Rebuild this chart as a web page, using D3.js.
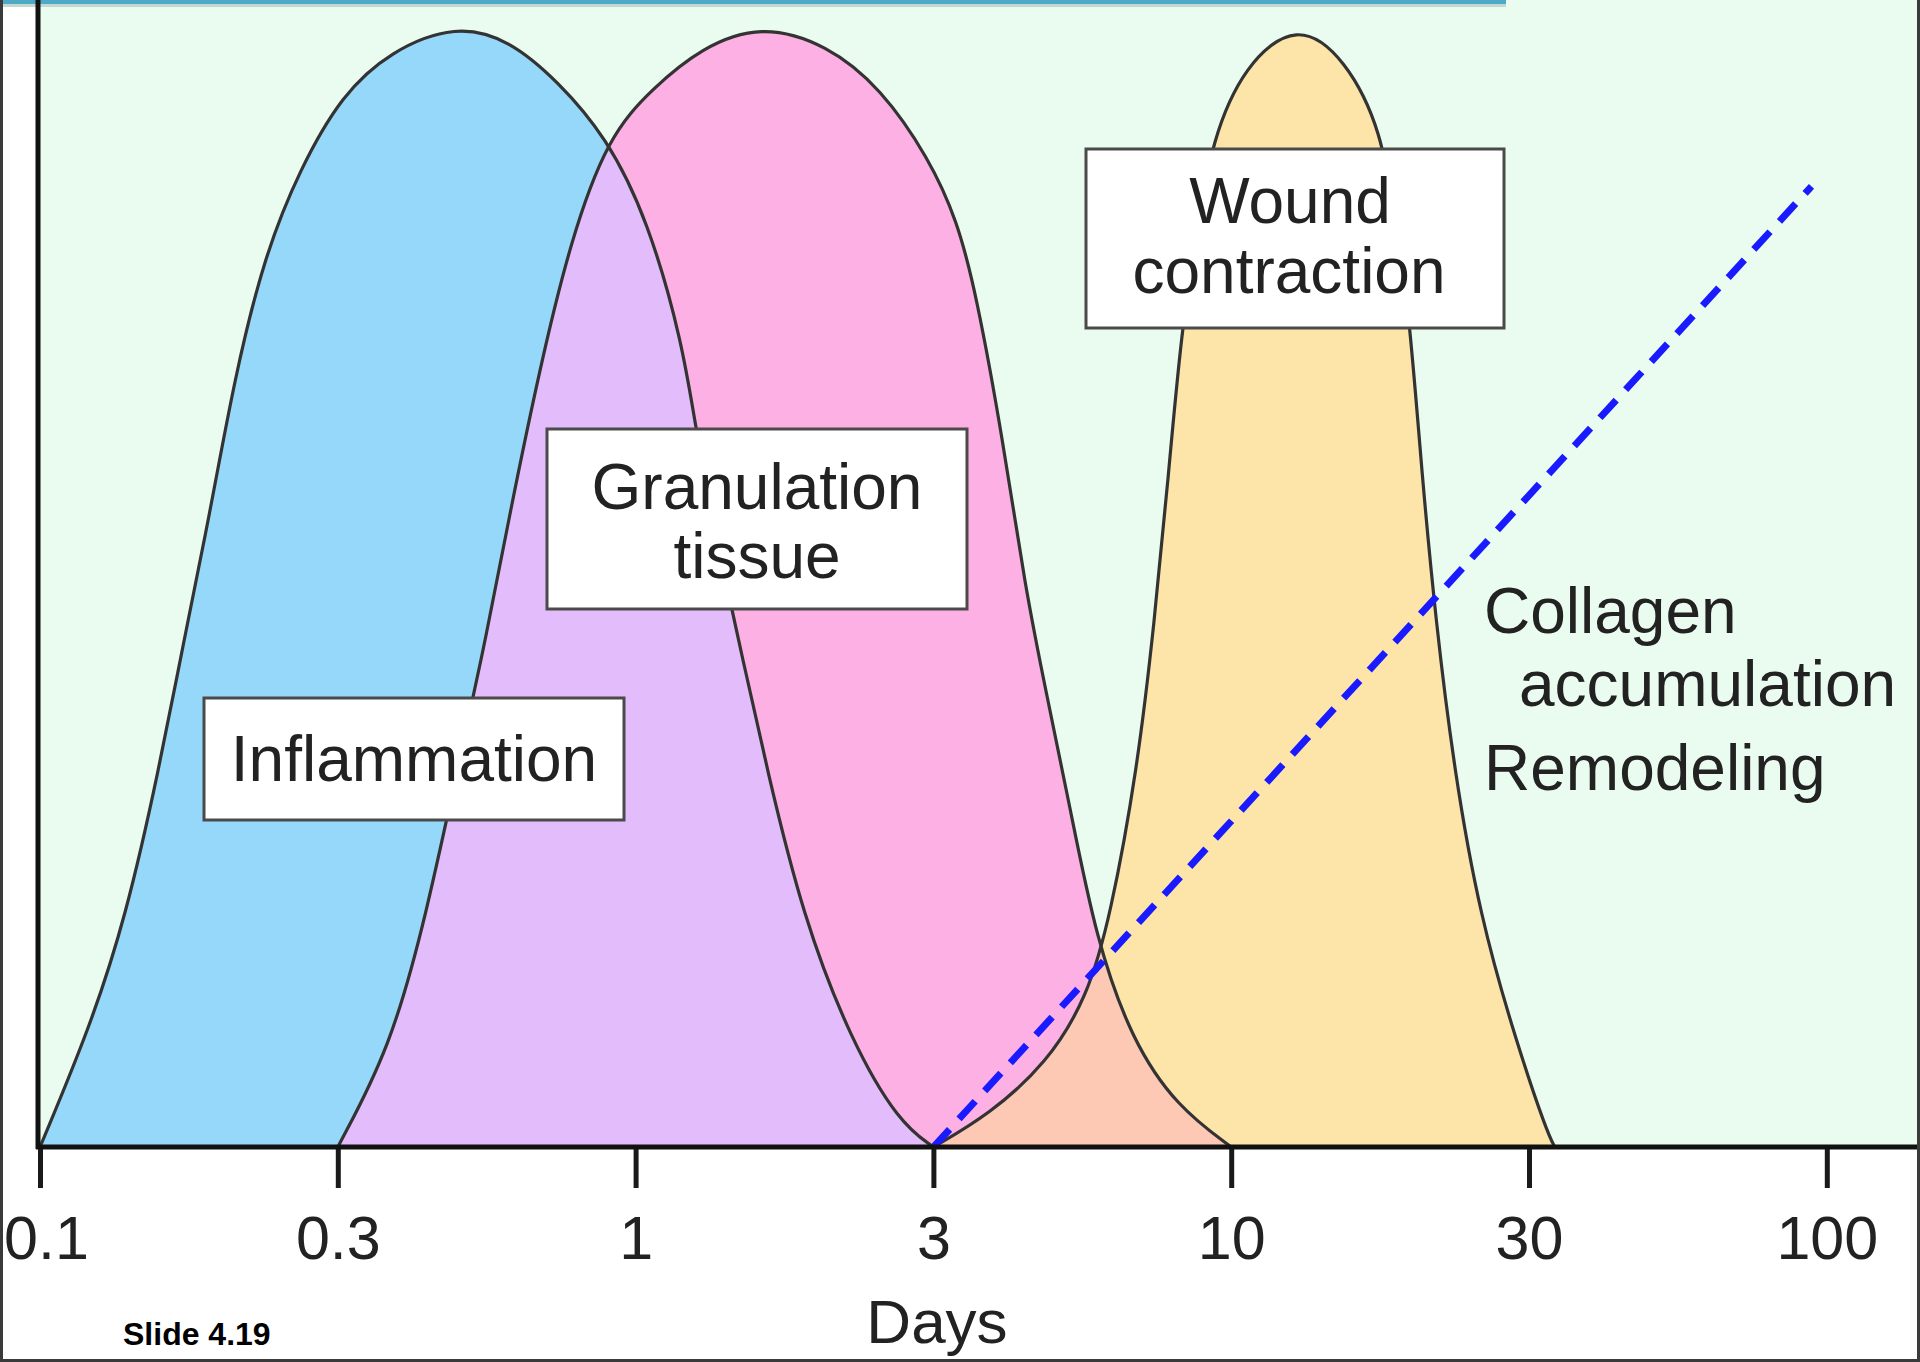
<!DOCTYPE html>
<html>
<head>
<meta charset="utf-8">
<script src="https://cdn.jsdelivr.net/npm/d3@7.9.0/dist/d3.min.js"></script>
<style>
  body { margin: 0; background: #fff; }
  svg { display: block; font-family: "Liberation Sans", Arial, Helvetica, sans-serif; }
</style>
</head>
<body>
<div id="chart"></div>
<script>
// x ticks (days), evenly spaced on the axis
const tickDays = [0.1, 0.3, 1, 3, 10, 30, 100];
const tickLabels = ["0.1", "0.3", "1", "3", "10", "30", "100"];

// [days, relative level 0-100]
const inflammation = [
  [0.1, 0], [0.1202, 10.7], [0.1373, 20.6], [0.1551, 33.8], [0.1694, 44.9],
  [0.1873, 56.8], [0.2045, 68.6], [0.2285, 79.7], [0.261, 87.6], [0.3051, 94.2],
  [0.3705, 98.1], [0.4837, 100.5], [0.6016, 99.1], [0.7305, 95.4], [0.8867, 90.5],
  [1.047, 83.0], [1.191, 71.8], [1.245, 64.6], [1.36, 53.4], [1.486, 43.6],
  [1.624, 33.8], [1.854, 20.6], [2.214, 9.5], [2.642, 2.2], [3, 0]
];
const granulation = [
  [0.3, 0], [0.3705, 8.8], [0.4285, 20.6], [0.4957, 35.7], [0.5463, 45.6],
  [0.6016, 56.8], [0.6795, 69.8], [0.767, 81.0], [0.8945, 90.5], [1.066, 94.8],
  [1.273, 98.4], [1.588, 100.5], [2.026, 98.7], [2.472, 94.8],
  [2.952, 88.5], [3.3, 83.0], [3.564, 76.5], [3.975, 63.3], [4.345, 50.1],
  [4.75, 40.3], [5.212, 30.4], [5.789, 18.6], [6.697, 9.5], [8.035, 3.6], [10, 0]
];
const contraction = [
  [3, 0], [3.756, 2.9], [4.75, 7.5], [5.589, 13.4], [6.134, 20.6],
  [6.842, 33.8], [7.328, 46.9], [7.755, 60.0], [8.175, 73.1], [8.726, 82.4],
  [9.265, 90.2], [10.48, 96.8], [12.75, 100.8], [15.27, 97.4], [17.44, 90.9],
  [18.3, 83.0], [19.27, 75.1], [20.22, 60.0], [21.29, 46.9], [22.75, 33.8],
  [25.04, 20.6], [28.59, 9.5], [32.27, 1.3], [33.3, 0]
];
const collagen = [[3, 0], [94, 86]];

const width = 1920;
const height = 1362;
const baseY = 1147;
const axisX = 38;

const svg = d3.select("#chart").append("svg")
  .attr("width", width)
  .attr("height", height);

// piecewise scale on log10(days) so that ticks sit evenly
const xScale = d3.scaleLinear()
  .domain(tickDays.map(Math.log10))
  .range(tickDays.map((d, i) => 40 + i * 297.8));
const px = (d) => xScale(Math.log10(d));

const yScale = d3.scaleLinear().domain([0, 100]).range([baseY, 30]);

// backgrounds
svg.append("rect").attr("width", width).attr("height", height).attr("fill", "#fff");
svg.append("rect")
  .attr("x", axisX).attr("y", 0)
  .attr("width", width - axisX).attr("height", baseY)
  .attr("fill", "#e9fcef");

const curve = d3.curveBasis;

const area = d3.area()
  .x((d) => px(d[0]))
  .y0(yScale(0))
  .y1((d) => yScale(d[1]))
  .curve(curve);

const line = d3.line()
  .x((d) => px(d[0]))
  .y((d) => yScale(d[1]))
  .curve(curve);

const defs = svg.append("defs");
defs.append("clipPath").attr("id", "clip-plot")
  .append("rect").attr("x", axisX).attr("y", 0).attr("width", width).attr("height", baseY);
defs.append("clipPath").attr("id", "clip-infl")
  .append("path").attr("d", area(inflammation));
defs.append("clipPath").attr("id", "clip-gran")
  .append("path").attr("d", area(granulation));

const plot = svg.append("g").attr("clip-path", "url(#clip-plot)");

// fills
plot.append("path").attr("d", area(inflammation)).attr("fill", "#95d8fa");
plot.append("path").attr("d", area(granulation)).attr("fill", "#fdb0e3");
plot.append("path").attr("d", area(contraction)).attr("fill", "#fde4a9");
// overlaps
plot.append("path").attr("d", area(granulation))
  .attr("clip-path", "url(#clip-infl)").attr("fill", "#e3bdfb");
plot.append("path").attr("d", area(contraction))
  .attr("clip-path", "url(#clip-gran)").attr("fill", "#fdc8b4");

// outlines
[inflammation, granulation, contraction].forEach((s) => {
  plot.append("path")
    .attr("d", line(s))
    .attr("fill", "none")
    .attr("stroke", "#333")
    .attr("stroke-width", 3.2);
});

// collagen accumulation (dashed)
plot.append("path")
  .attr("d", d3.line().x((d) => px(d[0])).y((d) => yScale(d[1]))(collagen))
  .attr("fill", "none")
  .attr("stroke", "#1a1aff")
  .attr("stroke-width", 7)
  .attr("stroke-dasharray", "24,14");

// top bar
svg.append("rect").attr("x", 0).attr("y", 4).attr("width", 1506).attr("height", 3).attr("fill", "#c4d8d2");
svg.append("rect").attr("x", 0).attr("y", 0).attr("width", 1506).attr("height", 4).attr("fill", "#4ea8c8");

// y axis line
svg.append("line")
  .attr("x1", axisX).attr("x2", axisX)
  .attr("y1", 0).attr("y2", baseY + 2)
  .attr("stroke", "#111").attr("stroke-width", 5);

// x axis
const xAxis = d3.axisBottom(xScale)
  .tickValues(tickDays.map(Math.log10))
  .tickFormat((d, i) => tickLabels[i])
  .tickSize(41)
  .tickSizeOuter(0);

const gx = svg.append("g")
  .attr("transform", `translate(0, ${baseY})`)
  .call(xAxis);
gx.select(".domain").remove();
gx.selectAll(".tick line").attr("stroke", "#1a1a1a").attr("stroke-width", 5);
gx.selectAll(".tick text")
  .attr("y", 112)
  .attr("dy", 0)
  .attr("fill", "#222")
  .style("font-size", "61px")
  .style("font-family", "'Liberation Sans', Arial, sans-serif");
// first label sits against the left edge
gx.select(".tick text").attr("x", 6);

svg.append("line")
  .attr("x1", axisX - 2).attr("x2", width)
  .attr("y1", baseY).attr("y2", baseY)
  .attr("stroke", "#111").attr("stroke-width", 5);

// label boxes
const boxes = [
  { x: 204, y: 698, w: 420, h: 122, lines: [["Inflammation", 414, 781]] },
  { x: 547, y: 429, w: 420, h: 180, lines: [["Granulation", 757, 509], ["tissue", 757, 578]] },
  { x: 1086, y: 149, w: 418, h: 179, lines: [["Wound", 1290, 223], ["contraction", 1289, 293]] }
];
boxes.forEach((b) => {
  svg.append("rect")
    .attr("x", b.x).attr("y", b.y).attr("width", b.w).attr("height", b.h)
    .attr("fill", "#fff").attr("stroke", "#4a4a4a").attr("stroke-width", 3);
  b.lines.forEach(([t, tx, ty]) => {
    svg.append("text")
      .attr("x", tx).attr("y", ty)
      .attr("text-anchor", "middle")
      .attr("fill", "#222")
      .style("font-size", "64px")
      .text(t);
  });
});

// collagen label
[["Collagen", 1484, 633], ["accumulation", 1519, 706], ["Remodeling", 1484, 790]].forEach(([t, tx, ty]) => {
  svg.append("text")
    .attr("x", tx).attr("y", ty)
    .attr("fill", "#222")
    .style("font-size", "64px")
    .text(t);
});

// axis title
svg.append("text")
  .attr("x", 937).attr("y", 1343)
  .attr("text-anchor", "middle")
  .attr("fill", "#222")
  .style("font-size", "62px")
  .text("Days");

svg.append("text")
  .attr("x", 123).attr("y", 1345)
  .attr("fill", "#000")
  .style("font-size", "32px")
  .style("font-weight", "bold")
  .text("Slide 4.19");

// frame
svg.append("path")
  .attr("d", `M1.5,0 V${height - 1.5} H${width - 1.5} V0`)
  .attr("fill", "none")
  .attr("stroke", "#3a3a3a")
  .attr("stroke-width", 3);
</script>
</body>
</html>
